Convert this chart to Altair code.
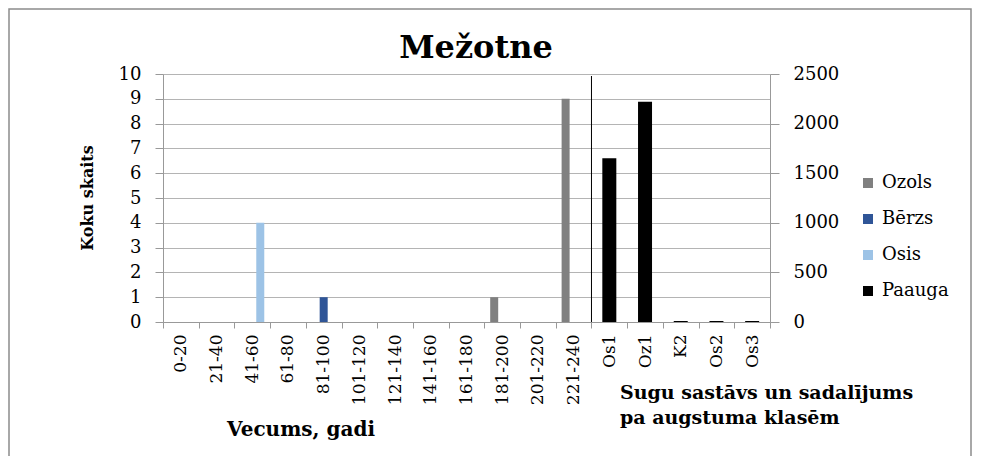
import altair as alt
import pandas as pd

ages = ['0-20', '21-40', '41-60', '61-80', '81-100', '101-120', '121-140',
        '141-160', '161-180', '181-200', '201-220', '221-240']
classes = ['Os1', 'Oz1', 'K2', 'Os2', 'Os3']
ozols = [0, 0, 0, 0, 0, 0, 0, 0, 0, 1, 0, 9]
berzs = [0, 0, 0, 0, 1, 0, 0, 0, 0, 0, 0, 0]
osis = [0, 0, 4, 0, 0, 0, 0, 0, 0, 0, 0, 0]
paauga = [1650, 2220, 10, 10, 10]
series = ['Ozols', 'Bērzs', 'Osis', 'Paauga']
colors = ['#808080', '#2F5597', '#9DC3E6', '#000000']
left_ticks = [0, 1, 2, 3, 4, 5, 6, 7, 8, 9, 10]
right_ticks = [0, 500, 1000, 1500, 2000, 2500]

cats = ages + classes
FONT = 'DejaVu Serif'

age_df = pd.DataFrame({
    'cat': ages * 3,
    'series': ['Ozols'] * len(ages) + ['Bērzs'] * len(ages) + ['Osis'] * len(ages),
    'value': ozols + berzs + osis,
})
cls_df = pd.DataFrame({'cat': classes, 'series': ['Paauga'] * len(classes), 'value': paauga})
leg_df = pd.DataFrame({'series': series})
one = pd.DataFrame({'k': [0]})

x_scale = alt.Scale(domain=cats, paddingInner=0, paddingOuter=0)
x_axis = alt.Axis(title=None, labelAngle=270, labelAlign='right', labelBaseline='middle',
                  tickBand='extent', tickSize=6, labelPadding=6, labelFontSize=17,
                  labelFont=FONT, labelColor='black', domainColor='#999999',
                  tickColor='#999999', labelOverlap=False, grid=False)

color = alt.Color('series:N', scale=alt.Scale(domain=series, range=colors), legend=None)

bars = alt.Chart(age_df).mark_bar().encode(
    x=alt.X('cat:N', scale=x_scale, axis=x_axis, sort=cats),
    xOffset=alt.XOffset('series:N', sort=['Ozols', 'Bērzs', 'Osis'],
                        scale=alt.Scale(domain=['Ozols', 'Bērzs', 'Osis'],
                                        paddingInner=0, paddingOuter=0.73)),
    y=alt.Y('value:Q', scale=alt.Scale(domain=[0, 10], nice=False),
            axis=alt.Axis(title=None, values=left_ticks, tickSize=8, labelPadding=14,
                          grid=True, gridColor='#b4b4b4', domainColor='#999999',
                          tickColor='#999999', labelFontSize=18, labelFont=FONT,
                          labelColor='black')),
    color=color,
)

pbars = alt.Chart(cls_df).mark_bar(width=14).encode(
    x=alt.X('cat:N', scale=x_scale, axis=x_axis, sort=cats),
    y=alt.Y('value:Q', scale=alt.Scale(domain=[0, 2500], nice=False),
            axis=alt.Axis(orient='right', title=None, values=right_ticks, format='d',
                          tickSize=9, labelPadding=14, grid=False,
                          domainColor='#999999', tickColor='#999999',
                          labelFontSize=18, labelFont=FONT, labelColor='black')),
    color=color,
)

sep = alt.Chart(pd.DataFrame({'cat': ['Os1']})).mark_rule(color='black', strokeWidth=1).encode(
    x=alt.X('cat:N', bandPosition=0, scale=x_scale, axis=x_axis, sort=cats),
    y=alt.value(2), y2=alt.value(248),
)

leg_y = alt.Y('series:N', scale=alt.Scale(type='point', domain=series, range=[109, 217],
                                          padding=0), axis=None)
leg_sym = alt.Chart(leg_df).mark_square(size=100, opacity=1).encode(
    x=alt.value(705), y=leg_y, color=color)
leg_txt = alt.Chart(leg_df).mark_text(font=FONT, fontSize=18, align='left',
                                      baseline='middle', color='black').encode(
    x=alt.value(719), y=leg_y, text='series:N')

frame = alt.Chart(one).mark_rect(fillOpacity=0, stroke='#8c8c8c', strokeWidth=1.5).encode(
    x=alt.value(-154), x2=alt.value(808), y=alt.value(-65), y2=alt.value(383))

title_txt = alt.Chart(one).mark_text(text='Mežotne', font=FONT, fontSize=32,
                                     fontWeight='bold', align='center',
                                     baseline='alphabetic', color='black').encode(
    x=alt.value(313), y=alt.value(-16))

ytitle = alt.Chart(one).mark_text(text='Koku skaits', font=FONT, fontSize=16,
                                  fontWeight='bold', angle=270, align='center',
                                  baseline='middle', color='black').encode(
    x=alt.value(-75), y=alt.value(124))

xtitle = alt.Chart(one).mark_text(text='Vecums, gadi', font=FONT, fontSize=20,
                                  fontWeight='bold', align='center',
                                  baseline='middle', color='black').encode(
    x=alt.value(138), y=alt.value(356))

sugu1 = alt.Chart(one).mark_text(text='Sugu sastāvs un sadalījums', font=FONT,
                                 fontSize=19, fontWeight='bold', align='left',
                                 baseline='middle', color='black').encode(
    x=alt.value(457), y=alt.value(319))

sugu2 = alt.Chart(one).mark_text(text='pa augstuma klasēm', font=FONT,
                                 fontSize=19, fontWeight='bold', align='left',
                                 baseline='middle', color='black').encode(
    x=alt.value(457), y=alt.value(344))

chart = alt.layer(frame, bars, pbars, sep, leg_sym, leg_txt, title_txt, ytitle, xtitle,
                  sugu1, sugu2).resolve_scale(
    y='independent'
).properties(
    width=607, height=248,
    autosize=alt.AutoSizeParams(type='none'),
    padding={'left': 155, 'top': 66, 'right': 204, 'bottom': 134},
).configure_view(stroke=None).configure(background='white', font=FONT)

chart.save('out.html', embed_options={'renderer': 'svg', 'actions': False})
